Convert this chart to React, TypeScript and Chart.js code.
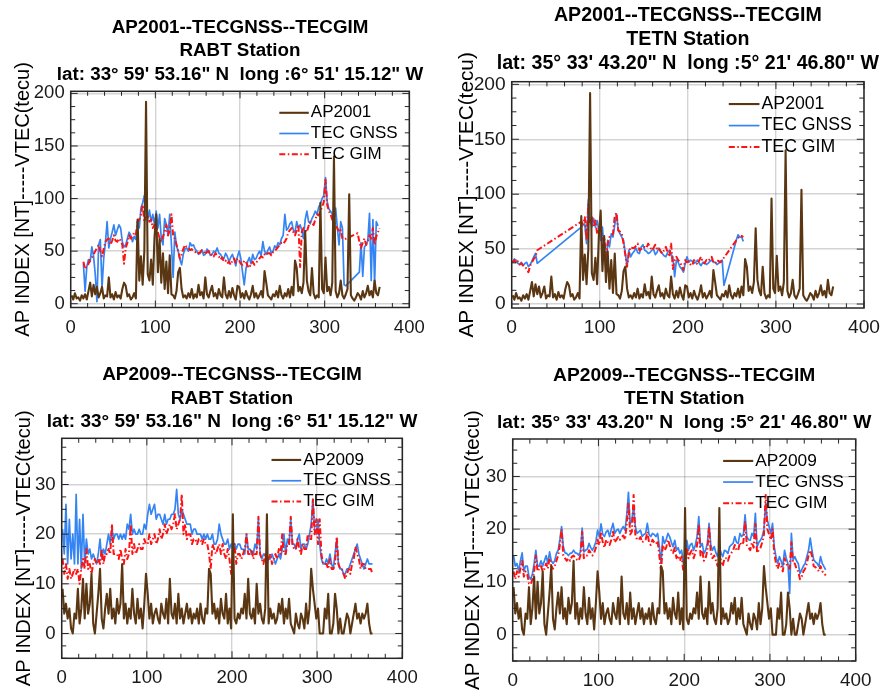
import React, { useEffect, useRef } from "react";
import { Chart, registerables } from "chart.js";

Chart.register(...registerables);

const _ = null;

// Day of year (sampled every second day)
const DAYS = [
  1, 3, 5, 7, 9, 11, 13, 15, 17, 19,
  21, 23, 25, 27, 29, 31, 33, 35, 37, 39,
  41, 43, 45, 47, 49, 51, 53, 55, 57, 59,
  61, 63, 65, 67, 69, 71, 73, 75, 77, 79,
  81, 83, 85, 87, 89, 91, 93, 95, 97, 99,
  101, 103, 105, 107, 109, 111, 113, 115, 117, 119,
  121, 123, 125, 127, 129, 131, 133, 135, 137, 139,
  141, 143, 145, 147, 149, 151, 153, 155, 157, 159,
  161, 163, 165, 167, 169, 171, 173, 175, 177, 179,
  181, 183, 185, 187, 189, 191, 193, 195, 197, 199,
  201, 203, 205, 207, 209, 211, 213, 215, 217, 219,
  221, 223, 225, 227, 229, 231, 233, 235, 237, 239,
  241, 243, 245, 247, 249, 251, 253, 255, 257, 259,
  261, 263, 265, 267, 269, 271, 273, 275, 277, 279,
  281, 283, 285, 287, 289, 291, 293, 295, 297, 299,
  301, 303, 305, 307, 309, 311, 313, 315, 317, 319,
  321, 323, 325, 327, 329, 331, 333, 335, 337, 339,
  341, 343, 345, 347, 349, 351, 353, 355, 357, 359,
  361, 363, 365,
];

const AP2001 = [
  8, 4, 10, 5, 6, 3, 8, 5, 9, 4,
  12, 20, 7, 18, 9, 16, 6, 10, 16, 5,
  8, 7, 25, 6, 9, 4, 11, 6, 8, 5,
  14, 20, 17, 7, 9, 4, 6, 10, 5, 80,
  22, 45, 18, 50, 192, 28, 22, 42, 18, 63,
  85, 30, 62, 20, 48, 14, 40, 10, 46, 9,
  8, 5, 12, 30, 34, 14, 6, 8, 5, 10,
  6, 14, 5, 9, 6, 18, 8, 11, 5, 25,
  9, 6, 12, 17, 7, 10, 5, 14, 8, 6,
  25, 9, 5, 12, 6, 15, 8, 4, 17, 16,
  6, 10, 5, 12, 7, 4, 9, 17, 6, 10,
  5, 8, 12, 6, 31, 20, 8, 6, 4, 9,
  7, 12, 6, 17, 8, 5, 10, 7, 14, 6,
  16, 8, 41, 34, 12, 16, 10, 20, 69, 22,
  12, 8, 34, 10, 5, 8, 6, 96, 14, 10,
  44, 12, 16, 8, 20, 140, 12, 6, 10, 22,
  8, 5, 9, 14, 104, 8, 5, 3, 6, 10,
  8, 4, 12, 6, 10, 17, 8, 12, 6, 22,
  10, 8, 16,
];

const AP2009 = [
  9, 4, 6, 3, 5, 1, 0, 4, 3, 9,
  2, 5, 11, 3, 10, 4, 6, 12, 2, 0,
  4, 8, 13, 3, 1, 5, 8, 4, 9, 3,
  5, 2, 7, 4, 6, 14, 3, 6, 2, 5,
  3, 9, 4, 2, 7, 3, 5, 1, 6, 12,
  8, 3, 6, 2, 4, 5, 3, 2, 6, 4,
  3, 7, 2, 11, 4, 3, 6, 2, 8, 3,
  5, 2, 4, 6, 3, 5, 2, 4, 3, 5,
  2, 6, 3, 2, 5, 4, 13, 12, 4, 6,
  3, 5, 2, 7, 4, 3, 8, 2, 5, 1,
  24, 3, 2, 4, 3, 5, 4, 8, 3, 11,
  4, 3, 5, 2, 10, 4, 6, 3, 2, 5,
  24, 2, 5, 3, 4, 2, 3, 6, 4, 7,
  2, 5, 3, 7, 2, 1, 0, 4, 2, 1,
  4, 3, 1, 6, 2, 5, 13, 9, 6, 3,
  5, 0, 0, 0, 5, 3, 8, 0, 0, 2,
  8, 5, 0, 3, 0, 0, 2, 4, 3, 0,
  2, 4, 6, 3, 4, 2, 4, 3, 4, 6,
  2, 0, 0,
];

const GNSS_RABT_2001 = [
  _, _, _, _, _, _, _, 38, 12, 35,
  42, 40, 54, 45, 28, 2, 56, 61, 15, 43,
  58, 78, 53, 62, 68, 75, 65, 70, 75, 72,
  59, 54, 56, 62, 68, 65, 59, 64, 61, 78,
  72, 91, 96, 103, 88, 80, 89, 78, 85, 75,
  88, 72, 85, 62, 56, 81, 75, 65, 85, 56,
  25, 68, 55, 50, 42, 37, 47, 52, 53, 50,
  58, 55, 56, 52, 50, 47, 48, 51, 46, 47,
  52, 50, 46, 47, 50, 49, 53, 48, 47, 44,
  43, 48, 45, 40, 44, 47, 42, 36, 45, 50,
  43, 30, 18, 33, 40, 44, 38, 47, 42, 43,
  47, 50, 46, 59, 50, 47, 51, 54, 48, 50,
  55, 53, 58, 56, 62, 65, 85, 70, 72, 76,
  78, 70, 68, 78, 72, 75, 70, 62, 80, 88,
  78, 76, 81, 84, 88, 85, 92, 95, 100, 103,
  120, 97, 90, 88, 85, 80, 91, 72, 56, 78,
  72, 18, 17, _, _, _, _, _, _, _,
  30, 58, 26, 54, 56, 60, 86, 22, 80, 18,
  78, 74, _,
];

const GIM_RABT_2001 = [
  _, _, _, _, _, _, _, 40, 33, 36,
  38, 42, 44, 47, 50, 53, 56, 50, 45, 52,
  59, 61, 62, 56, 60, 65, 60, 59, 62, 60,
  56, 38, 53, 58, 65, 62, 64, 68, 66, 78,
  80, 85, 94, 78, 82, 85, 78, 80, 72, 75,
  74, 68, 62, 59, 64, 68, 75, 65, 70, 85,
  65, 62, 56, 50, 43, 47, 52, 56, 54, 53,
  51, 52, 50, 49, 50, 48, 49, 51, 50, 47,
  49, 50, 46, 47, 45, 48, 46, 45, 42, 44,
  40, 41, 38, 40, 37, 41, 43, 39, 43, 41,
  38, 37, 41, 40, 36, 34, 38, 40, 37, 39,
  41, 43, 45, 44, 47, 46, 48, 48, 46, 49,
  50, 52, 54, 56, 58, 57, 59, 62, 68, 70,
  72, 68, 65, 70, 75, 35, 68, 72, 70, 68,
  74, 78, 76, 75, 80, 85, 84, 88, 92, 97,
  118, 94, 88, 85, 80, 78, 74, 72, 68, 70,
  62, 61, _, _, _, _, _, _, _, 67,
  59, 53, 58, 62, 56, 60, 65, 62, 72, 56,
  64, 68, 72,
];

const GNSS_TETN_2001 = [
  38, 41, 40, 37, 36, 38, 35, 37, 38, 34,
  36, 39, 43, 46, 37, _, _, _, _, _,
  _, _, _, _, _, _, _, _, _, _,
  _, _, _, _, _, _, _, _, _, 70,
  72, 73, 55, 95, 76, 70, 78, 70, 76, 67,
  58, 70, 49, 31, 58, 52, 64, 61, 72, 82,
  67, 64, 61, 58, 46, 34, 49, 43, 46, 48,
  51, 47, 46, 52, 54, 49, 48, 46, 47, 49,
  50, 45, 47, 51, 48, 46, 44, 43, 47, 49,
  45, 43, 25, 40, 38, 34, 32, 29, 37, 43,
  38, 40, 39, 37, 38, 40, 37, 35, 38, 38,
  36, 37, 39, 40, 38, 38, 36, 37, 39, 40,
  17, _, _, _, _, _, _, 58, 63, 61,
  61, 57, _, _, _, _, _, _, _, _,
  _, _, _, _, _, _, _, _, _, _,
  _, _, _, _, _, _, _, _, _, _,
  _, _, _, _, _, _, _, _, _, _,
  _, _, _, _, _, _, _, _, _, _,
  _, _, _,
];

const GIM_TETN_2001 = [
  38, 40, 37, 39, 36, 37, 35, 34, 32, 29,
  35, 38, 41, 43, 49, _, _, _, _, _,
  _, _, _, _, _, _, _, _, _, _,
  _, _, _, _, _, _, _, _, _, 75,
  73, 79, 58, 92, 73, 79, 70, 76, 64, 70,
  70, 58, 61, 43, 55, 61, 62, 64, 80, 83,
  67, 66, 64, 55, 45, 34, 46, 52, 51, 51,
  53, 55, 49, 50, 52, 52, 51, 55, 52, 49,
  51, 54, 50, 51, 48, 46, 49, 52, 47, 43,
  55, 32, 40, 43, 40, 38, 35, 31, 40, 38,
  39, 36, 35, 40, 38, 36, 40, 43, 38, 37,
  40, 39, 41, 43, 38, 37, 40, 39, 38, 40,
  _, _, _, _, _, _, _, 58, 60, 62,
  62, 61, _, _, _, _, _, _, _, _,
  _, _, _, _, _, _, _, _, _, _,
  _, _, _, _, _, _, _, _, _, _,
  _, _, _, _, _, _, _, _, _, _,
  _, _, _, _, _, _, _, _, _, _,
  _, _, _,
];

const GNSS_RABT_2009 = [
  21, 16, 26, 14, 23, 15, 20, 14, 28, 14,
  23, 13, 24, 14, 19, 16, 17, 15, 16, 15,
  14, 16, 19, 15, 17, 16, 18, 20, 18, 21,
  19, 20, 20, 19, 20, 19, 20, 19, 22, 21,
  24, 20, 21, 20, 20, 21, 20, 20, 22, 21,
  24, 26, 24, 25, 26, 23, 24, 24, 23, 22,
  24, 22, 23, 23, 24, 24, 25, 29, 24, 23,
  25, 24, 23, 22, 22, 22, 20, 21, 21, 20,
  20, 20, 19, 20, 19, 20, 19, 19, 20, 18,
  18, 19, 22, 20, 19, 18, 18, 19, 17, 18,
  17, 18, 17, 18, 18, 17, 17, 16, 20, 17,
  17, 16, 16, 18, 17, 23, 16, 15, 16, 16,
  14, 15, 15, 16, 15, 14, 15, 16, 15, 17,
  20, 16, 19, 18, 23, 18, 18, 17, 19, 20,
  17, 18, 18, 17, 18, 20, 22, 27, 21, 20,
  23, 18, 15, 14, 14, 15, 14, 16, 14, 13,
  16, 19, 14, 13, 13, 12, 12, 13, 13, 14,
  15, 16, 17, 18, 16, 15, 14, 13, 14, 15,
  14, 14, 14,
];

const GIM_RABT_2009 = [
  15, 12, 14, 11, 13, 11, 12, 13, 12, 13,
  10, 13, 15, 13, 17, 13, 14, 12, 14, 15,
  14, 15, 14, 17, 14, 16, 16, 17, 16, 22,
  16, 16, 16, 15, 17, 15, 14, 17, 15, 16,
  22, 16, 18, 16, 17, 18, 17, 17, 19, 18,
  18, 20, 18, 19, 20, 18, 19, 21, 19, 20,
  22, 20, 21, 22, 21, 22, 24, 21, 22, 23,
  28, 20, 22, 19, 20, 20, 18, 19, 19, 18,
  19, 19, 18, 19, 18, 18, 16, 13, 18, 17,
  16, 17, 18, 16, 18, 16, 15, 17, 15, 12,
  16, 18, 14, 16, 16, 15, 16, 17, 20, 16,
  16, 17, 15, 16, 16, 23.5, 16, 15, 14, 16,
  14, 15, 16, 14, 15, 16, 15, 17, 16, 20,
  16, 16, 18, 18, 23.5, 18, 17, 17, 19, 17,
  16, 18, 17, 17, 20, 19, 19, 27, 20, 23,
  18, 23, 16, 14, 14, 14, 13, 15, 13, 13,
  14, 19.5, 14, 13, 13, 12, 11, 12, 13, 12,
  14, 15, 17.5, 16, 15, 13, 14, 14, 13, 13,
  13, 13, 12,
];

const GNSS_TETN_2009 = [
  15, 13, 13.5, 12, 14, 15.5, 12, 13, 13, 11,
  10.5, 11.5, 13.5, 16, 13, 13, 14, 13, 14, 15,
  13.5, 15.7, 14, 13.5, 14, 15.4, 16, 18, 20.5, 16.7,
  15.5, 15.4, 15, 15.4, 15.5, 16, 15.5, 15.4, 15.1, 15.7,
  20.2, 15.7, 16, 16.2, 17.3, 16.5, 16, 16.7, 17.6, 19.8,
  18.6, 21, 19, 18.6, 19.5, 19.8, 18.6, 20, 21.1, 19.2,
  19.8, 20, 19.2, 20, 20.5, 19.8, 22.7, 27, 21, 21.7,
  24.3, 20.5, 19.2, 19.5, 19.8, 18.6, 19, 19.2, 21.1, 19,
  18.6, 19.2, 19, 18.6, 19.2, 16.7, 13.5, 18.6, 17.3, 18,
  19.2, 18.6, 17.5, 16.7, 17.9, 16, 16.5, 15.4, 16, 13.5,
  13, 17.9, 16, 17, 17.3, 16, 17, 18.6, 22.4, 16.7,
  17.3, 15.4, 16, 17.3, 21.1, 17, 16, 16.7, 15.5, 14.8,
  16.7, 15.5, 14.8, 16, 15.8, 15.4, 16.7, 17, 17.3, 18.6,
  17.5, 17.3, 19.2, 18.6, 19, 22.7, 18.6, 18, 17.9, 19.2,
  18.6, 23, 16.7, 17.5, 17.9, 18.6, 20, 25, 21.7, 20.5,
  19.2, 21.1, 16.7, 14.8, 13.5, 14.8, 14, 12.9, 16, 14.5,
  13.5, 7.8, 19.2, 14.2, 14.8, 14, 13.5, 11.6, 12.3, 13,
  13.5, 14.8, 16, 18.3, 16, 14.2, 13.8, 13.5, 12.9, 14.8,
  13.5, 12.9, 12.3,
];

const GIM_TETN_2009 = [
  12, 10.5, 12, 11, 12.5, 14, 11, 12, 11.5, 9.7,
  9.5, 10.5, 12, 15, 12, 12.5, 13, 12, 12.5, 13.5,
  12.5, 14.5, 13, 12.5, 13, 14, 15, 17, 20, 15,
  14.5, 14, 14.5, 14, 14.8, 15, 14.5, 14.2, 14, 15,
  19.5, 14.5, 15, 15, 16, 15.5, 15, 15.5, 16.5, 18,
  17, 19.5, 17.5, 16.5, 18, 17.5, 17, 18, 19.5, 17.5,
  18, 18.5, 18, 18.5, 18.8, 18, 21, 25, 19, 19.5,
  26.5, 19, 18, 18, 18.5, 17.5, 17.8, 18, 19.5, 17.5,
  17, 18, 17.5, 17.2, 17.8, 15, 12, 17, 16, 16.5,
  18, 17, 16, 15.5, 16.5, 14.5, 15, 14, 14.8, 12,
  11.5, 16.5, 14.5, 15.5, 16, 14.5, 15.5, 17, 21, 15,
  16, 14, 14.5, 16, 20.5, 15.5, 14.5, 15, 14, 13,
  15, 14, 13, 14.5, 14.5, 14, 15, 15.5, 16, 17,
  16, 16, 17.5, 17, 17.5, 21.5, 17, 16.5, 16, 17.5,
  16.5, 21, 15.5, 16, 16.5, 17.5, 19, 26.5, 20, 19,
  18, 20, 15.5, 13.5, 12.5, 13.5, 13, 12, 14.5, 13.5,
  13, 12.5, 17.5, 13.5, 13.5, 12.5, 12, 10.5, 11, 12,
  12.5, 13.5, 15, 16, 15, 13, 12.8, 12.5, 12, 13,
  12, 11.8, 11.2,
];

const X_TICKS = [0, 100, 200, 300, 400];
const Y_TICKS_2001 = [0, 50, 100, 150, 200];
const Y_TICKS_2009 = [0, 10, 20, 30];
const Y_TITLE = "AP INDEX [NT]-----VTEC(tecu)";
const LEGEND_TEC = ["TEC GNSS", "TEC GIM"];

const TITLE_TL = ["AP2001--TECGNSS--TECGIM", "RABT Station", "lat: 33\u00b0 59' 53.16\" N  long :6\u00b0 51' 15.12\" W"];
const TITLE_TR = ["AP2001--TECGNSS--TECGIM", "TETN Station", "lat: 35\u00b0 33' 43.20\" N  long :5\u00b0 21' 46.80\" W"];
const TITLE_BL = ["AP2009--TECGNSS--TECGIM", "RABT Station", "lat: 33\u00b0 59' 53.16\" N  long :6\u00b0 51' 15.12\" W"];
const TITLE_BR = ["AP2009--TECGNSS--TECGIM", "TETN Station", "lat: 35\u00b0 33' 43.20\" N  long :5\u00b0 21' 46.80\" W"];

const FONT = "'Liberation Sans', Arial, Helvetica, sans-serif";
const BROWN = "#5a3712";
const BLUE = "#3584f4";
const RED = "#ff1212";
const GIM_DASH = [6, 2.5, 1.5, 2.5];

type PanelCfg = any;

const PANELS: PanelCfg[] = [
  {
    key: "tl", x: 0, y: 0, w: 445, h: 345,
    area: { l: 70.7, t: 91.3, r: 409.3, b: 307.5 },
    s: 1, titleSize: 18.8, titleLH: 23.3, titleY: 28,
    yTitleSize: 20, yTitleCenter: 23.5, tickSize: 18.5, xPad: 9.5,
    yMin: -3.6, yMax: 202, yTicks: Y_TICKS_2001, yMinor: 12.5,
    title: TITLE_TL, apLabel: "AP2001", ap: AP2001, gnss: GNSS_RABT_2001, gim: GIM_RABT_2001,
  },
  {
    key: "tr", x: 445, y: 0, w: 446, h: 345,
    area: { l: 66.7, t: 81.7, r: 419, b: 308 },
    s: 1.04, titleSize: 19.6, titleLH: 23.7, titleY: 16,
    yTitleSize: 20.8, yTitleCenter: 22.5, tickSize: 19.2, xPad: 8,
    yMin: -3.6, yMax: 202.4, yTicks: Y_TICKS_2001, yMinor: 12.5,
    title: TITLE_TR, apLabel: "AP2001", ap: AP2001, gnss: GNSS_TETN_2001, gim: GIM_TETN_2001,
  },
  {
    key: "bl", x: 0, y: 345, w: 445, h: 346,
    area: { l: 61.7, t: 93.3, r: 402.3, b: 313.3 },
    s: 1.006, titleSize: 19.0, titleLH: 23.8, titleY: 29.5,
    yTitleSize: 20.1, yTitleCenter: 24, tickSize: 18.6, xPad: 8,
    yMin: -5, yMax: 39.3, yTicks: Y_TICKS_2009, yMinor: 2.5,
    title: TITLE_BL, apLabel: "AP2009", ap: AP2009, gnss: GNSS_RABT_2009, gim: GIM_RABT_2009,
  },
  {
    key: "br", x: 445, y: 345, w: 446, h: 346,
    area: { l: 67.7, t: 94, r: 410.7, b: 316 },
    s: 1.02, titleSize: 19.2, titleLH: 23.7, titleY: 30.5,
    yTitleSize: 20.4, yTitleCenter: 28, tickSize: 18.9, xPad: 8,
    yMin: -5, yMax: 37.1, yTicks: Y_TICKS_2009, yMinor: 2.5,
    title: TITLE_BR, apLabel: "AP2009", ap: AP2009, gnss: GNSS_TETN_2009, gim: GIM_TETN_2009,
  },
];

const toXY = (vals: (number | null)[]) => DAYS.map((d, i) => ({ x: d, y: vals[i] }));

function buildConfig(cfg: PanelCfg): any {
  const s = cfg.s;
  const padLeft = cfg.yTitleCenter - (cfg.yTitleSize * 1.2) / 2;

  const decorPlugin = {
    id: "frameTitleLegend",
    afterDraw(chart: any) {
      const { ctx, chartArea: a } = chart;
      const xs = chart.scales.x;
      const ys = chart.scales.y;
      ctx.save();
      // inner ticks
      ctx.strokeStyle = "#262626";
      ctx.lineWidth = 1;
      ctx.setLineDash([]);
      ctx.beginPath();
      for (let v = 0; v <= 400; v += 20) {
        const px = xs.getPixelForValue(v);
        const len = v % 100 === 0 ? 7 * s : 4.5 * s;
        ctx.moveTo(px, a.bottom);
        ctx.lineTo(px, a.bottom - len);
        ctx.moveTo(px, a.top);
        ctx.lineTo(px, a.top + len);
      }
      const step = cfg.yMinor;
      for (let v = Math.ceil(cfg.yMin / step) * step; v <= cfg.yMax; v += step) {
        const py = ys.getPixelForValue(v);
        const major = cfg.yTicks.indexOf(v) >= 0;
        const len = major ? 7 * s : 4.5 * s;
        ctx.moveTo(a.left, py);
        ctx.lineTo(a.left + len, py);
        ctx.moveTo(a.right, py);
        ctx.lineTo(a.right - len, py);
      }
      ctx.stroke();
      // box
      ctx.lineWidth = 1.5;
      ctx.strokeRect(a.left, a.top, a.right - a.left, a.bottom - a.top);

      // title (three lines, centred over the plot area)
      ctx.fillStyle = "#000";
      ctx.font = `bold ${cfg.titleSize}px ${FONT}`;
      ctx.textAlign = "center";
      ctx.textBaseline = "middle";
      const cx = (a.left + a.right) / 2;
      cfg.title.forEach((line: string, i: number) => {
        ctx.fillText(line, cx, cfg.titleY + i * cfg.titleLH);
      });

      // legend
      const dsets = chart.data.datasets;
      ctx.font = `${17 * s}px ${FONT}`;
      ctx.textBaseline = "middle";
      ctx.textAlign = "left";
      for (let i = 0; i < dsets.length; i++) {
        const ds = dsets[i];
        const y = a.top + 21.5 * s + i * 20.7 * s;
        ctx.beginPath();
        ctx.setLineDash(ds.borderDash || []);
        ctx.strokeStyle = ds.borderColor;
        ctx.lineWidth = ds.borderWidth;
        ctx.moveTo(a.right - 130 * s, y);
        ctx.lineTo(a.right - 100.5 * s, y);
        ctx.stroke();
        ctx.setLineDash([]);
        ctx.fillStyle = "#000";
        ctx.fillText(ds.label, a.right - 98.5 * s, y);
      }
      ctx.restore();
    },
  };

  const gridOpts = { color: "rgba(0,0,0,0.17)", lineWidth: 1.4, drawTicks: false };

  return {
    type: "line",
    data: {
      datasets: [
        {
          label: cfg.apLabel, data: toXY(cfg.ap), borderColor: BROWN, borderWidth: 2.1,
          pointRadius: 0, tension: 0, spanGaps: true, order: 0, borderJoinStyle: "round",
        },
        {
          label: LEGEND_TEC[0], data: toXY(cfg.gnss), borderColor: BLUE, borderWidth: 1.7,
          pointRadius: 0, tension: 0, spanGaps: true, order: 2, borderJoinStyle: "round",
        },
        {
          label: LEGEND_TEC[1], data: toXY(cfg.gim), borderColor: RED, borderWidth: 2,
          borderDash: GIM_DASH, pointRadius: 0, tension: 0, spanGaps: true, order: 1, borderJoinStyle: "round",
        },
      ],
    },
    options: {
      responsive: false,
      animation: false,
      devicePixelRatio: 1,
      events: [],
      layout: { padding: { top: cfg.area.t, left: padLeft, right: cfg.w - cfg.area.r, bottom: 0 } },
      plugins: {
        legend: { display: false },
        tooltip: { enabled: false },
        title: { display: false },
      },
      scales: {
        x: {
          type: "linear",
          min: 0,
          max: 400,
          afterBuildTicks: (sc: any) => { sc.ticks = X_TICKS.map((v) => ({ value: v })); },
          afterFit: (sc: any) => { sc.height = cfg.h - cfg.area.b; },
          grid: gridOpts,
          border: { display: false },
          ticks: {
            font: { family: FONT, size: cfg.tickSize },
            color: "#1a1a1a",
            padding: cfg.xPad,
            maxRotation: 0,
            autoSkip: false,
          },
        },
        y: {
          type: "linear",
          min: cfg.yMin,
          max: cfg.yMax,
          afterBuildTicks: (sc: any) => { sc.ticks = cfg.yTicks.map((v: number) => ({ value: v })); },
          afterFit: (sc: any) => { sc.width = cfg.area.l - padLeft; },
          grid: gridOpts,
          border: { display: false },
          ticks: {
            font: { family: FONT, size: cfg.tickSize },
            color: "#1a1a1a",
            padding: 6,
            autoSkip: false,
          },
          title: {
            display: true,
            text: Y_TITLE,
            color: "#000",
            font: { family: FONT, size: cfg.yTitleSize, lineHeight: 1.2 },
            padding: { top: 0, bottom: 0 },
          },
        },
      },
    },
    plugins: [decorPlugin],
  };
}

function Panel({ cfg }: { cfg: PanelCfg }) {
  const ref = useRef<HTMLCanvasElement | null>(null);
  useEffect(() => {
    if (!ref.current) return;
    const chart = new Chart(ref.current, buildConfig(cfg));
    return () => chart.destroy();
  }, [cfg]);
  return (
    <canvas
      ref={ref}
      width={cfg.w}
      height={cfg.h}
      style={{ position: "absolute", left: cfg.x, top: cfg.y, width: cfg.w, height: cfg.h }}
    />
  );
}

export default function App() {
  return (
    <div style={{ position: "absolute", left: 0, top: 0, width: 891, height: 691, background: "#fff", overflow: "hidden" }}>
      {PANELS.map((p) => (
        <Panel key={p.key} cfg={p} />
      ))}
    </div>
  );
}
